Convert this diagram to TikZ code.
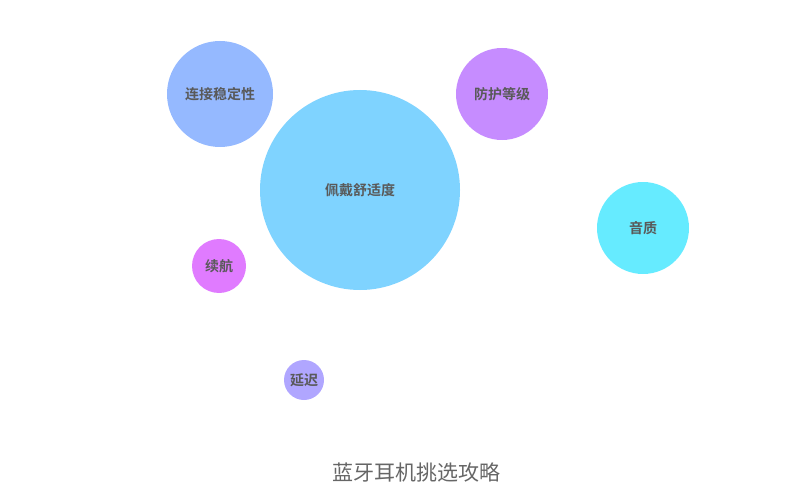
\documentclass[tikz,border=0pt]{standalone}
\usepackage{fontspec}
\setmainfont{Noto Sans CJK SC}
\newfontfamily\cjkb{Noto Sans CJK SC Bold}
\begin{document}
\begin{tikzpicture}[x=1pt,y=-1pt,
  bub/.style={circle,inner sep=0pt,text=black!65,font=\cjkb\fontsize{14}{16}\selectfont}]
\definecolor{cA}{HTML}{95B9FF}
\definecolor{cB}{HTML}{7FD3FF}
\definecolor{cC}{HTML}{C68CFF}
\definecolor{cD}{HTML}{66EBFF}
\definecolor{cE}{HTML}{E07BFF}
\definecolor{cF}{HTML}{B0A6FF}
\useasboundingbox (0,0) rectangle (800,500);
\node[bub,fill=cA,minimum size=106pt] (a) at (220,94) {连接稳定性};
\node[bub,fill=cB,minimum size=200pt] (b) at (360,190) {佩戴舒适度};
\node[bub,fill=cC,minimum size=92pt] (c) at (502,94) {防护等级};
\node[bub,fill=cD,minimum size=92pt] (d) at (643,228) {音质};
\node[bub,fill=cE,minimum size=54pt] (e) at (219,266) {续航};
\node[bub,fill=cF,minimum size=40pt] (f) at (304,380) {延迟};
\node[text=black!60,font=\fontsize{21}{24}\selectfont] (t) at (416,472) {蓝牙耳机挑选攻略};
\end{tikzpicture}
\end{document}
